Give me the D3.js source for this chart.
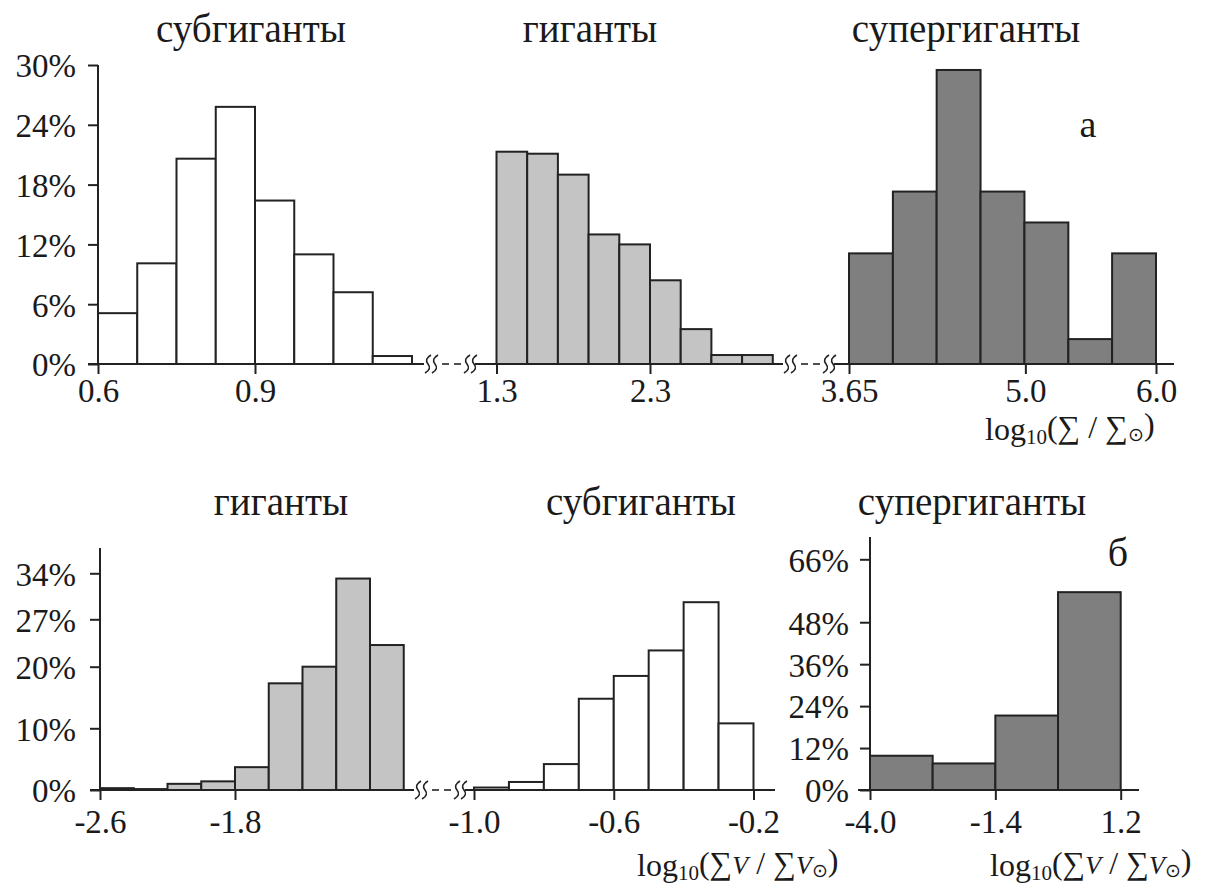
<!DOCTYPE html>
<html>
<head>
<meta charset="utf-8">
<script src="https://cdn.jsdelivr.net/npm/d3@7"></script>
<style>
  body { margin: 0; background: #fff; }
  text { font-family: "Liberation Serif", "Times New Roman", serif; fill: #1a1a1a; }
</style>
</head>
<body>
<svg id="chart" width="1229" height="892"></svg>
<script>
"use strict"

// ---- data (percent per bin) ----
// row a: log10(Σ/Σsun)
const subTopEdges   = [0.6, 0.675, 0.75, 0.825, 0.9, 0.975, 1.05, 1.125, 1.2];
const subTopValues  = [5.1, 10.1, 20.6, 25.8, 16.4, 11.0, 7.2, 0.8];
const giantTopEdges  = [1.3, 1.5, 1.7, 1.9, 2.1, 2.3, 2.5, 2.7, 2.9, 3.1];
const giantTopValues = [21.3, 21.1, 19.0, 13.0, 12.0, 8.4, 3.5, 0.9, 0.9];
const superTopEdges  = [3.65, 3.986, 4.321, 4.657, 4.993, 5.329, 5.664, 6.0];
const superTopValues = [11.1, 17.3, 29.5, 17.3, 14.2, 2.5, 11.1];

// row б: log10(ΣV/ΣVsun)
const giantBotEdges  = [-2.6, -2.4, -2.2, -2.0, -1.8, -1.6, -1.4, -1.2, -1.0, -0.8];
const giantBotValues = [0.3, 0.15, 1.0, 1.4, 3.7, 17.3, 20.0, 33.2, 23.2];
const subBotEdges    = [-1.0, -0.9, -0.8, -0.7, -0.6, -0.5, -0.4, -0.3, -0.2];
const subBotValues   = [0.4, 1.3, 4.2, 14.8, 18.5, 22.4, 29.6, 10.8];
const superBotEdges  = [-4.0, -2.7, -1.4, -0.1, 1.2];
const superBotValues = [9.8, 7.6, 21.3, 56.6];

// ticks
const topYTicks      = [0, 6, 12, 18, 24, 30];
const botYTicks      = [0, 10, 20, 27, 34];
const superBotYTicks = [0, 12, 24, 36, 48, 66];
const subTopTicks    = [0.6, 0.9],        subTopLabels   = ["0.6", "0.9"];
const giantTopTicks  = [1.3, 2.3],        giantTopLabels = ["1.3", "2.3"];
const superTopTicks  = [3.65, 5.0, 6.0],  superTopLabels = ["3.65", "5.0", "6.0"];
const giantBotTicks  = [-2.6, -1.8],      giantBotLabels = ["-2.6", "-1.8"];
const subBotTicks    = [-1.0, -0.6, -0.2], subBotLabels  = ["-1.0", "-0.6", "-0.2"];
const superBotTicks  = [-4.0, -1.4, 1.2], superBotLabels = ["-4.0", "-1.4", "1.2"];

const titlesTop = ["субгиганты", "гиганты", "супергиганты"];
const titlesBot = ["гиганты", "субгиганты", "супергиганты"];

// ---- style ----
const ink = "#222";
const fillWhite = "#ffffff", fillLight = "#c4c4c4", fillDark = "#7f7f7f";

let svg = d3.select("#chart");

// ---- scales ----
let yTop = d3.scaleLinear().domain([0, 30]).range([364, 65]);
let xSubTop = d3.scaleLinear().domain([0.6, 0.9]).range([98, 255]);
let xGiantTop = d3.scaleLinear().domain([1.3, 2.3]).range([496.5, 650]);
let xSuperTop = d3.scaleLinear().domain([3.65, 6.0]).range([849, 1156]);

// bottom-left ticks are not evenly spaced in the original
let yBot = d3.scaleLinear().domain([0, 10, 20, 27, 34]).range([790, 728.3, 666.7, 619.3, 573.3]);
let ySuperBot = d3.scaleLinear().domain([0, 66]).range([790, 559.3]);
let xGiantBot = d3.scaleLinear().domain([-2.6, -1.8]).range([100, 235]);
let xSubBot = d3.scaleLinear().domain([-1.0, -0.2]).range([474, 753.5]);
let xSuperBot = d3.scaleLinear().domain([-4.0, 1.2]).range([870, 1120.7]);

function drawBars(edges, values, x, y, fill){
    svg.append("g").selectAll("rect")
        .data(values)
        .join("rect")
        .attr("x", (d, i) => x(edges[i]))
        .attr("width", (d, i) => x(edges[i + 1]) - x(edges[i]))
        .attr("y", d => y(d))
        .attr("height", d => y(0) - y(d))
        .attr("fill", fill)
        .attr("stroke", ink)
        .attr("stroke-width", 2)
}

function hLine(x1, x2, y){
    svg.append("line").attr("x1", x1).attr("x2", x2).attr("y1", y).attr("y2", y)
        .attr("stroke", ink).attr("stroke-width", 2)
}

function vLine(x, y1, y2){
    svg.append("line").attr("x1", x).attr("x2", x).attr("y1", y1).attr("y2", y2)
        .attr("stroke", ink).attr("stroke-width", 2)
}

function xAxis(x, ticks, labels, y, pad){
    let g = svg.append("g")
        .attr("transform", "translate(0," + y + ")")
        .call(d3.axisBottom(x).tickValues(ticks).tickSize(10).tickSizeOuter(0)
            .tickFormat((d, i) => labels[i]))
    g.select(".domain").remove()
    g.selectAll("line").attr("stroke", ink).attr("stroke-width", 2)
    g.selectAll("text")
        .attr("y", pad)
        .style("font-size", "33px")
        .attr("fill", "#1a1a1a")
}

function yAxis(y, ticks, x, top, labelX){
    let g = svg.append("g")
        .attr("transform", "translate(" + x + ",0)")
        .call(d3.axisLeft(y).tickValues(ticks).tickSize(10).tickSizeOuter(0)
            .tickFormat(d => d + "%"))
    g.select(".domain").remove()
    g.selectAll("line").attr("stroke", ink).attr("stroke-width", 2)
    g.selectAll("text")
        .attr("x", labelX)
        .attr("dy", "0.36em")
        .style("font-size", "33px")
        .attr("fill", "#1a1a1a")
    vLine(x, top, y(0))
}

// axis break: ≀≀ - - ≀≀
function drawBreak(x0, y){
    let g = svg.append("g").attr("fill", "none").attr("stroke", ink).attr("stroke-width", 1.6)
    let squig = x => "M" + (x + 3) + "," + (y - 9) + " Q" + (x - 4) + "," + (y - 5) + " " + x + "," + y +
                     " Q" + (x + 4) + "," + (y + 5) + " " + (x - 3) + "," + (y + 9)
    ;[5, 12, 44, 51].forEach(dx => g.append("path").attr("d", squig(x0 + dx)))
    ;[[19, 26], [31, 38]].forEach(s => g.append("line")
        .attr("x1", x0 + s[0]).attr("x2", x0 + s[1]).attr("y1", y).attr("y2", y))
}

// ---- row a ----
drawBars(subTopEdges, subTopValues, xSubTop, yTop, fillWhite)
drawBars(giantTopEdges, giantTopValues, xGiantTop, yTop, fillLight)
drawBars(superTopEdges, superTopValues, xSuperTop, yTop, fillDark)

hLine(88, 424, yTop(0))
drawBreak(423, yTop(0))
hLine(475, 783, yTop(0))
drawBreak(782, yTop(0))
hLine(834, 1174, yTop(0))

yAxis(yTop, topYTicks, xSubTop(0.6), yTop(30), -22)
xAxis(xSubTop, subTopTicks, subTopLabels, yTop(0), 15)
xAxis(xGiantTop, giantTopTicks, giantTopLabels, yTop(0), 15)
xAxis(xSuperTop, superTopTicks, superTopLabels, yTop(0), 15)

// ---- row б ----
drawBars(giantBotEdges, giantBotValues, xGiantBot, yBot, fillLight)
drawBars(subBotEdges, subBotValues, xSubBot, yBot, fillWhite)
drawBars(superBotEdges, superBotValues, xSuperBot, ySuperBot, fillDark)

hLine(90, 414, yBot(0))
drawBreak(413, yBot(0))
hLine(465, 775, yBot(0))
hLine(858, 1139, ySuperBot(0))

yAxis(yBot, botYTicks, xGiantBot(-2.6), 548, -24)
yAxis(ySuperBot, superBotYTicks, xSuperBot(-4.0), 537, -21)
xAxis(xGiantBot, giantBotTicks, giantBotLabels, yBot(0), 20)
xAxis(xSubBot, subBotTicks, subBotLabels, yBot(0), 20)
xAxis(xSuperBot, superBotTicks, superBotLabels, ySuperBot(0), 20)

// ---- titles ----
const topCenters = [251, 590, 966], botCenters = [281, 641, 972];
titlesTop.forEach((t, i) => svg.append("text").attr("x", topCenters[i]).attr("y", 42)
    .attr("text-anchor", "middle").style("font-size", "39px").text(t))
titlesBot.forEach((t, i) => svg.append("text").attr("x", botCenters[i]).attr("y", 515)
    .attr("text-anchor", "middle").style("font-size", "39px").text(t))

svg.append("text").attr("x", 1088).attr("y", 137).attr("text-anchor", "middle")
    .style("font-size", "38px").text("а")
svg.append("text").attr("x", 1118).attr("y", 566).attr("text-anchor", "middle")
    .style("font-size", "40px").text("б")

// axis titles
function axisTitle(x, y, withV){
    let t = svg.append("text").attr("x", x).attr("y", y).style("font-size", "32px")
    t.append("tspan").text("log")
    t.append("tspan").attr("dy", "0.2em").style("font-size", "21px").text("10")
    t.append("tspan").attr("dy", "-0.2em").text("(∑")
    if(withV) t.append("tspan").style("font-style", "italic").style("font-size", "26px").text("V")
    t.append("tspan").text(" / ∑")
    if(withV) t.append("tspan").style("font-style", "italic").style("font-size", "26px").text("V")
    t.append("tspan").attr("dy", "0.18em").style("font-size", "19px").text("⊙")
    t.append("tspan").attr("dy", "-0.18em").text(")")
}
axisTitle(985, 440, false)
axisTitle(637, 876, true)
axisTitle(990, 876, true)
</script>
</body>
</html>
